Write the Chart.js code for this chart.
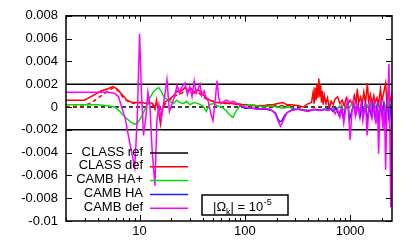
<!DOCTYPE html>
<html><head><meta charset="utf-8">
<script src="https://cdn.jsdelivr.net/npm/chart.js@4/dist/chart.umd.min.js"></script>
<style>html,body{margin:0;padding:0;background:#fff;}canvas{display:block;}</style>
</head><body>
<canvas id="c" width="415" height="249" style="width:415px;height:249px"></canvas>
<script>
// ---- data (multipole l, relative difference) ----
const legendLabels = ['CLASS ref', 'CLASS def', 'CAMB HA+', 'CAMB HA', 'CAMB def'];
const xTickValues = [10, 100, 1000];
const xTickLabels = ['10', '100', '1000'];
const yTickValues = [0.008, 0.006, 0.004, 0.002, 0, -0.002, -0.004, -0.006, -0.008, -0.01];
const yTickLabels = ['0.008', '0.006', '0.004', '0.002', '0', '-0.002', '-0.004', '-0.006', '-0.008', '-0.01'];
const bandLevels = [0.002, -0.002];

const classRef = [[2,0],[2500,0]];

const classDef = [[2,0.0006],[3,0.0006],[3.6,0.001],[4.3,0.0014],[5,0.0016],[5.6,0.0018],[6.1,0.0016],[6.8,0.0011],[7.6,0.0006],[8.5,0.0004],[9.5,0.0004],[10.5,0.0004],[11.5,0.0003],[12.5,0.0004],[13.3,0.0003],[14,-0.0002],[14.5,0.0006],[15.2,-0.0005],[15.8,-0.0015],[16.4,-0.0003],[17.2,0.0004],[18.5,0.0006],[20,0.0008],[21.5,0.0011],[22.7,0.0014],[24,0.0013],[25.5,0.0015],[27,0.0017],[29,0.0014],[31,0.0016],[33,0.0013],[35,0.0015],[37.5,0.0014],[40,0.0011],[43,0.0008],[47,0.0006],[52,0.0004],[58,0.0004],[65,0.0003],[75,0.0003],[88,0.0002],[100,0.0002],[115,0.0001],[130,0.0001],[150,0.0001],[165,0.0002],[185,0.0002],[205,0.0003],[230,0.0004],[250,0.0002],[280,0.0002],[320,0.0001],[360,0.0],[400,0.0003],[430,0.0004],[445,0.0013],[455,0.0003],[465,0.0017],[475,0.0006],[485,0.002],[495,0.0008],[505,0.0025],[515,0.0009],[525,0.0019],[535,0.0004],[545,0.0014],[555,0.0002],[570,0.001],[590,0.0003],[610,0.0008],[635,-0.0001],[660,0.0005],[690,0.0002],[720,0.0007],[760,0.0009],[800,0.0003],[840,0.0006],[880,0.0001],[920,0.0008],[960,0.0003],[1000,0.0006],[1050,0.0002],[1100,0.001],[1140,0.0003],[1170,0.0016],[1210,0.0004],[1260,0.0009],[1300,0.0002],[1350,0.0013],[1400,0.0003],[1460,0.0021],[1500,0.0005],[1560,0.0011],[1620,0.0003],[1680,0.001],[1730,0.0004],[1800,0.0008],[1860,0.0002],[1946,0.0016],[2000,0.0005],[2080,0.0012],[2175,0.0021],[2230,0.0006],[2300,0.0012],[2380,0.0004],[2450,0.0009],[2500,0.0003]];

const classDefDashed = [[2,0.0],[3,0.0001],[3.5,0.0004],[4.2,0.0009],[5,0.0014],[5.7,0.0017],[6.3,0.0014],[7,0.0008],[8,0.0004],[9,0.0003],[10,0.0004],[12,0.0003],[14,0.0001],[16,-0.0002],[18,0.0004],[20,0.0007],[22,0.001],[25,0.0012],[28,0.0015],[32,0.0012],[36,0.0013],[40,0.0009],[45,0.0006],[55,0.0004],[80,0.0003],[150,0.0001],[300,0.0001]];

const cambHAplus = [[2,0.0002],[3,0.0002],[4,0.0002],[5,0.0001],[5.8,0.0],[6.5,-0.0004],[7.3,-0.0009],[8.2,-0.0013],[9,-0.0015],[9.6,-0.0014],[10.5,-0.0008],[11.5,0.0],[12.5,0.0008],[13.5,0.0013],[14.5,0.0016],[15.2,0.0017],[16,0.0014],[17,0.0009],[18,0.0007],[19.5,0.0005],[21,0.0003],[22.5,0.0006],[24,0.0004],[26,0.0003],[28,0.0005],[30,0.0002],[33,0.0004],[36,0.0003],[40,0.0001],[43,-0.0004],[46,0.0002],[50,0.0003],[55,0.0001],[60,0.0],[66,-0.0003],[72,-0.0007],[77,-0.0009],[82,-0.0004],[90,0.0001],[100,0.0001],[115,0.0002],[130,0.0001],[150,0.0],[175,0.0001],[200,0.0],[230,-0.0001],[260,0.0],[300,-0.0002],[340,-0.0002],[400,-0.0003],[450,-0.0002],[500,-0.0003],[560,-0.0002],[620,-0.0003],[680,-0.0001],[740,-0.0002],[800,0.0001],[860,-0.0003],[920,0.0002],[980,-0.0001],[1040,0.0003],[1100,-0.0002],[1170,0.0002],[1240,-0.0003],[1300,0.0001],[1380,-0.0004],[1450,0.0002],[1520,-0.0002],[1600,0.0003],[1680,-0.0003],[1760,0.0001],[1850,-0.0005],[1940,0.0002],[2030,-0.0004],[2120,0.0003],[2200,-0.0002],[2300,0.0004],[2400,-0.0003],[2500,0.0001]];

const cambHA = [[90,0.0001],[100,-0.0001],[120,-0.0001],[140,-0.0002],[160,-0.0002],[180,-0.0003],[195,-0.0005],[205,-0.001],[215,-0.0013],[225,-0.0012],[240,-0.0007],[260,-0.0004],[290,-0.0002],[330,-0.0002],[370,-0.0003],[420,-0.0003],[470,-0.0002],[520,-0.0003],[580,-0.0002],[640,-0.0001],[690,-0.0004],[740,-0.0001],[780,-0.0007],[820,-0.0002],[860,-0.0009],[900,-0.0002],[950,0.0003],[990,-0.0011],[1040,-0.0003],[1090,0.0002],[1140,-0.0006],[1190,0.0001],[1240,-0.0009],[1290,0.0002],[1340,-0.0006],[1400,0.0003],[1460,-0.0012],[1520,0.0],[1590,-0.0008],[1660,0.0002],[1730,-0.001],[1800,0.0001],[1870,-0.0014],[1940,0.0003],[2010,-0.0008],[2090,0.0003],[2170,-0.0011],[2250,0.0004],[2330,-0.0009],[2400,0.0003],[2460,-0.0012],[2500,0.0]];

const cambDef = [[2,0.0013],[3,0.0013],[4,0.0013],[5,0.0013],[5.8,0.0012],[6.3,0.0009],[7.3,-0.001],[8.2,-0.0035],[9.0,-0.0053],[9.5,-0.001],[10.0,0.0064],[10.4,0.0015],[10.9,-0.0025],[11.5,-0.0008],[12.0,0.0013],[12.5,0.0003],[13.2,-0.004],[14.0,-0.0069],[14.6,-0.0012],[15.3,0.0002],[16.0,-0.0011],[17.0,0.0005],[18.2,0.0024],[19.2,-0.0004],[20.5,0.0004],[21.5,0.0009],[22.7,0.0019],[24,0.0012],[25,0.0017],[27,0.0021],[28.5,0.0011],[30,0.0018],[31.5,0.0009],[33,0.0023],[34.5,0.0012],[36,0.0016],[37.5,0.002],[39,0.001],[41,0.0014],[43,0.0008],[45,0.0005],[47.5,-0.0006],[49.8,-0.0012],[52,0.0004],[54.5,0.0023],[56.5,0.0008],[59,0.0003],[63,0.0005],[67,0.0006],[72,0.0004],[78,0.0005],[85,0.0003],[92,0.0001],[100,0.0],[115,-0.0001],[130,-0.0002],[150,-0.0001],[175,-0.0002],[195,-0.0006],[208,-0.0013],[218,-0.0017],[232,-0.0012],[250,-0.0005],[280,-0.0003],[320,-0.0002],[360,-0.0003],[400,-0.0004],[450,-0.0002],[500,-0.0003],[560,-0.0002],[620,-0.0003],[680,-0.0001],[720,-0.0006],[760,-0.0002],[800,-0.0009],[835,0.0001],[870,-0.0014],[905,-0.0003],[950,0.0006],[1000,-0.0029],[1040,-0.0005],[1080,0.0006],[1120,-0.0008],[1170,0.0002],[1220,-0.0006],[1270,0.0003],[1320,-0.0012],[1360,-0.0004],[1400,0.0004],[1450,-0.0025],[1500,-0.0003],[1560,0.0005],[1620,-0.0009],[1700,0.0003],[1760,-0.0015],[1820,0.0001],[1865,-0.0041],[1920,-0.0003],[1980,0.0006],[2050,-0.0019],[2120,0.0002],[2175,-0.0055],[2230,-0.0006],[2290,0.0011],[2340,0.0038],[2380,-0.0012],[2430,-0.0088],[2470,-0.002],[2500,0.0002]];

const colors = {ref:'#000000', def:'#ff0000', haplus:'#00e000', ha:'#2020ff', camb:'#ff00ff'};

const toXY = arr => arr.map(p => ({x:p[0], y:p[1]}));
const FONT = '"Liberation Sans", Arial, Helvetica, sans-serif';

function ds(label, arr, color, order, dash) {
  return {label, data: toXY(arr), borderColor: color, backgroundColor: color, borderWidth: 1.5,
    borderDash: dash || [], showLine: true, pointRadius: 0, tension: 0, order, fill: false};
}

const datasets = [
  ds(legendLabels[4], cambDef, colors.camb, 0),
  ds(legendLabels[3], cambHA, colors.ha, 1),
  ds(legendLabels[2], cambHAplus, colors.haplus, 2),
  ds(legendLabels[1], classDef, colors.def, 3),
  ds(legendLabels[1] + ' (2)', classDefDashed, colors.def, 4, [4,3]),
  ds(legendLabels[0], classRef, colors.ref, 5, [4,3]),
  ds('band+', [[2,bandLevels[0]],[2500,bandLevels[0]]], '#000', 6),
  ds('band-', [[2,bandLevels[1]],[2500,bandLevels[1]]], '#000', 6)
];

const framePlugin = {
  id: 'frame',
  afterDatasetsDraw(chart) {
    const {ctx, chartArea: a, scales} = chart;
    const xs = scales.x, ys = scales.y;
    ctx.save();
    ctx.strokeStyle = '#000';
    ctx.lineWidth = 1.5;
    ctx.strokeRect(a.left, a.top, a.right - a.left, a.bottom - a.top);
    ctx.lineWidth = 1;
    ctx.beginPath();
    yTickValues.forEach(v => {
      const y = Math.round(ys.getPixelForValue(v)) + 0.5;
      ctx.moveTo(a.left, y); ctx.lineTo(a.left + 6, y);
      ctx.moveTo(a.right, y); ctx.lineTo(a.right - 6, y);
    });
    for (let d = 1; d <= 1000; d *= 10) {
      for (let m = 1; m <= 9; m++) {
        const v = d * m;
        if (v < 2 || v > 2500) continue;
        const x = Math.round(xs.getPixelForValue(v)) + 0.5;
        const len = (m === 1) ? 6 : 3;
        ctx.moveTo(x, a.bottom); ctx.lineTo(x, a.bottom - len);
        ctx.moveTo(x, a.top); ctx.lineTo(x, a.top + len);
      }
    }
    ctx.stroke();

    // legend
    ctx.font = '13px ' + FONT;
    ctx.textAlign = 'right';
    ctx.textBaseline = 'middle';
    const legendColors = [colors.ref, colors.def, colors.haplus, colors.ha, colors.camb];
    legendLabels.forEach((lab, i) => {
      const y = 152 + i * 13.8;
      ctx.fillStyle = '#000';
      ctx.fillText(lab, 143, y);
      ctx.strokeStyle = legendColors[i];
      ctx.lineWidth = 1.5;
      ctx.beginPath();
      ctx.moveTo(150, y + 1); ctx.lineTo(188, y + 1);
      ctx.stroke();
    });

    // annotation box
    ctx.fillStyle = '#fff';
    ctx.fillRect(202, 195, 86, 20);
    ctx.strokeStyle = '#000';
    ctx.lineWidth = 1.5;
    ctx.strokeRect(202, 195, 86, 20);
    ctx.fillStyle = '#000';
    ctx.textAlign = 'left';
    ctx.textBaseline = 'alphabetic';
    const base = 210.5;
    let x = 213;
    ctx.font = '13px ' + FONT;
    ctx.fillText('|\u03A9', x, base); x += ctx.measureText('|\u03A9').width;
    ctx.font = '9px ' + FONT;
    ctx.fillText('k', x, base + 4); x += ctx.measureText('k').width;
    ctx.font = '13px ' + FONT;
    ctx.fillText('| = 10', x, base); x += ctx.measureText('| = 10').width;
    ctx.font = '9px ' + FONT;
    ctx.fillText('-5', x + 0.5, base - 6);
    ctx.restore();
  }
};

new Chart(document.getElementById('c'), {
  type: 'scatter',
  data: {datasets},
  options: {
    responsive: false, animation: false, devicePixelRatio: 1,
    layout: {padding: {top: 15, right: 23, left: 0, bottom: 0}},
    plugins: {legend: {display: false}, tooltip: {enabled: false}},
    elements: {point: {radius: 0}},
    scales: {
      x: {
        type: 'logarithmic', min: 2, max: 2500, position: 'bottom',
        grid: {display: false, drawTicks: false}, border: {display: false},
        afterBuildTicks: s => { s.ticks = xTickValues.map(v => ({value: v})); },
        afterFit: s => { s.height = 28; },
        ticks: {
          autoSkip: false, maxRotation: 0, padding: 3, color: '#000',
          font: {family: FONT, size: 13},
          callback: v => { const i = xTickValues.indexOf(v); return i >= 0 ? xTickLabels[i] : ''; }
        }
      },
      y: {
        type: 'linear', min: -0.01, max: 0.008, position: 'left',
        grid: {display: false, drawTicks: false}, border: {display: false},
        afterBuildTicks: s => { s.ticks = yTickValues.map(v => ({value: v})); },
        afterFit: s => { s.width = 66; },
        ticks: {
          autoSkip: false, padding: 8, color: '#000',
          font: {family: FONT, size: 13},
          callback: v => { const i = yTickValues.findIndex(t => Math.abs(t - v) < 1e-9); return i >= 0 ? yTickLabels[i] : ''; }
        }
      }
    }
  },
  plugins: [framePlugin]
});
</script>
</body></html>
